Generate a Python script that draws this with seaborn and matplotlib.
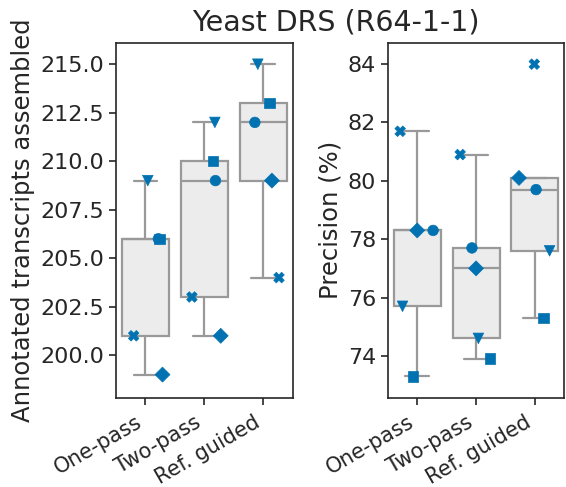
import numpy as np
import pandas as pd
import matplotlib
matplotlib.use("Agg")
import matplotlib.pyplot as plt
import seaborn as sns

# Assembly strategies on the x axis
methods = ["One-pass", "Two-pass", "Ref. guided"]

# Annotated transcripts assembled, one list per tool (keyed by marker)
annot_v = [209, 212, 215]
annot_s = [206, 210, 213]
annot_o = [206, 209, 212]
annot_X = [201, 203, 204]
annot_D = [199, 201, 209]

# Precision (%), one list per tool
prec_v = [75.7, 74.6, 77.6]
prec_s = [73.3, 73.9, 75.3]
prec_o = [78.3, 77.7, 79.7]
prec_X = [81.7, 80.9, 84.0]
prec_D = [78.3, 77.0, 80.1]

# Horizontal jitter applied to the points of each tool
jit_annot = {"v": [0.04, 0.18, -0.09], "s": [0.24, 0.15, 0.11],
             "o": [0.22, 0.19, -0.14], "X": [-0.20, -0.21, 0.27],
             "D": [0.29, 0.28, 0.15]}
jit_prec = {"v": [-0.25, 0.04, 0.25], "s": [-0.07, 0.24, 0.15],
            "o": [0.27, -0.07, 0.02], "X": [-0.29, -0.27, -0.01],
            "D": [0.00, 0.00, -0.27]}

annot = {"v": annot_v, "s": annot_s, "o": annot_o, "X": annot_X, "D": annot_D}
prec = {"v": prec_v, "s": prec_s, "o": prec_o, "X": prec_X, "D": prec_D}
marker_order = ["o", "s", "X", "D", "v"]

sns.set_theme(style="ticks")
plt.rcParams["font.family"] = ["DejaVu Sans"]

BLUE = "#0072B2"


def long_frame(values, jitter):
    rows = []
    for m in marker_order:
        for i, meth in enumerate(methods):
            rows.append({"method": meth, "value": values[m][i], "marker": m,
                         "xpos": i + jitter[m][i]})
    return pd.DataFrame(rows)


fig, axes = plt.subplots(1, 2, figsize=(5.66, 4.87), dpi=100)
fig.subplots_adjust(left=0.205, right=0.997, top=0.912, bottom=0.183, wspace=0.54)

panels = [
    (axes[0], long_frame(annot, jit_annot), "Annotated transcripts assembled",
     (197.8, 216.1), np.arange(200, 215.1, 2.5), "{:.1f}"),
    (axes[1], long_frame(prec, jit_prec), "Precision (%)",
     (72.56, 84.73), np.arange(74, 84.1, 2), "{:.0f}"),
]

for ax, df, ylabel, ylim, yticks, fmt in panels:
    sns.boxplot(data=df, x="method", y="value", order=methods, ax=ax,
                color="#ececec", saturation=1, linecolor="#999999",
                linewidth=1.6, width=0.8, showfliers=False)
    sns.scatterplot(data=df, x="xpos", y="value", style="marker",
                    markers={m: m for m in marker_order}, color=BLUE,
                    edgecolor=BLUE, linewidth=0.5, s=58, legend=False,
                    ax=ax, zorder=3)
    ax.set_xlim(-0.5, 2.5)
    ax.set_ylim(*ylim)
    ax.set_yticks(yticks)
    ax.set_yticklabels([fmt.format(t) for t in yticks])
    ax.set_xticks(range(len(methods)))
    ax.set_xticklabels(methods, rotation=30, ha="right")
    ax.set_xlabel("")
    ax.set_ylabel(ylabel, fontsize=17.5, labelpad=4)
    ax.tick_params(axis="y", labelsize=16)
    ax.tick_params(axis="x", labelsize=15, pad=5)
    ax.tick_params(length=5, width=1.2, colors="#262626")
    for sp in ax.spines.values():
        sp.set_linewidth(1.2)
        sp.set_color("#262626")

fig.text(0.593, 0.953, "Yeast DRS (R64-1-1)", ha="center", va="center",
         fontsize=20.5, color="#262626")

fig.savefig("out.png", dpi=100)
